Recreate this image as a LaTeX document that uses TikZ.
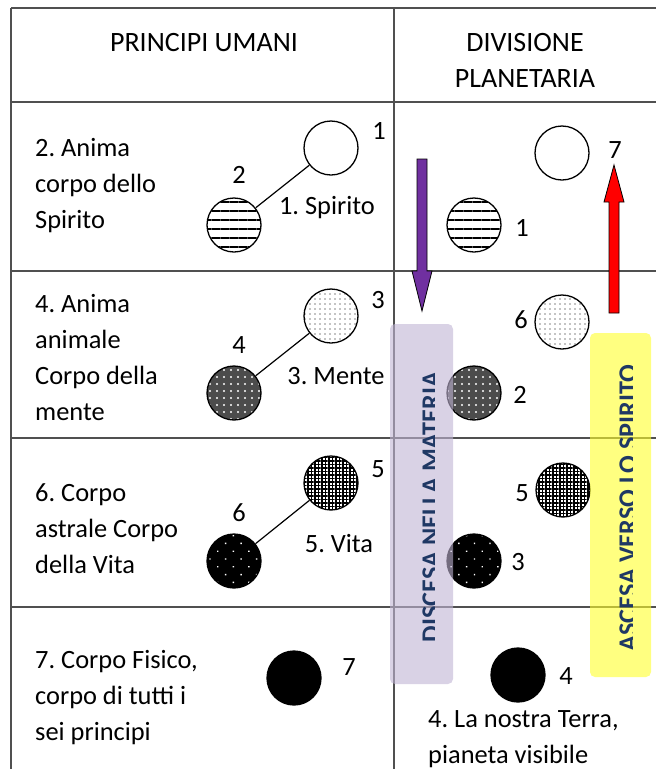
\documentclass[tikz,border=0pt]{standalone}
\usepackage{fontspec}
\setmainfont{Carlito}
\usetikzlibrary{patterns.meta}
\definecolor{discesa}{RGB}{112,48,160}
\definecolor{boxlilla}{RGB}{192,180,212}
\definecolor{boxgiallo}{RGB}{255,255,43}
\definecolor{blutesto}{RGB}{31,56,100}
\definecolor{griglia}{RGB}{80,80,80}
\frenchspacing
\begin{document}
\begin{tikzpicture}[x=1pt,y=-1pt,
  riga/.style={griglia,line width=1.4pt},
  corpo/.style={circle,draw,line width=1.3pt,minimum size=54pt,inner sep=0pt},
  bianco/.style={corpo,fill=white},
  righe/.style={corpo,pattern={Lines[angle=0,distance=9pt,line width=1.6pt]}},
  puntini/.style={corpo,pattern={Dots[radius=0.7pt,distance=5pt]}},
  scuro/.style={corpo,preaction={fill=black!70},pattern={Dots[radius=1.1pt,distance=7pt]},pattern color=white},
  rete/.style={corpo,preaction={fill=white},pattern={Hatch[distance=3.5pt,line width=1.3pt]}},
  nero/.style={corpo,preaction={fill=black},pattern={Dots[radius=1pt,distance=11pt,angle=45]},pattern color=white},
  pieno/.style={corpo,fill=black},
  testo/.style={font=\fontsize{26.4}{36}\selectfont,inner sep=0pt,align=left},
  titolo/.style={font=\fontsize{28}{36}\selectfont,inner sep=0pt,align=center},
  num/.style={font=\fontsize{26.4}{36}\selectfont,inner sep=0pt},
  verticale/.style={rotate=90,anchor=south,inner sep=0pt,text=blutesto,font=\fontsize{26.2}{30}\selectfont\bfseries}]
\useasboundingbox (0,0) rectangle (656,769);
\draw[riga] (11,8) -- (656,8);
\draw[riga] (11,8) -- (11,769);
\draw[riga] (394,8) -- (394,769);
\foreach \y in {102,271,438,607} \draw[riga] (11,\y) -- (656,\y);
\node[titolo] (h1) at (204,43) {PRINCIPI UMANI};
\node[titolo] (h2) at (525,60) {DIVISIONE\\PLANETARIA};
\node[testo,anchor=west] (t1) at (35,186) {2. Anima\\corpo dello\\Spirito};
\node[testo,anchor=west] (t2) at (35,358) {4. Anima\\animale\\Corpo della\\mente};
\node[testo,anchor=west] (t3) at (35,529) {6. Corpo\\astrale Corpo\\della Vita};
\node[testo,anchor=west] (t4) at (35,698) {7. Corpo Fisico,\\corpo di tutti i\\sei principi};
\node[testo,anchor=west] (t5) at (428,739) {4. La nostra Terra,\\pianeta visibile};
% principi umani
\node[bianco] (s1) at (331,148) {};
\node[righe] (s2) at (234,225) {};
\node[puntini] (s3) at (331,316) {};
\node[scuro] (s4) at (234,393) {};
\node[rete] (s5) at (331,483) {};
\node[nero] (s6) at (234,561) {};
\node[pieno] (s7) at (294,678) {};
\draw[line width=1.2pt] (s1) -- (s2);
\draw[line width=1.2pt] (s3) -- (s4);
\draw[line width=1.2pt] (s5) -- (s6);
\node[num] (n1) at (379,131) {1};
\node[num] (n2) at (239,175) {2};
\node[num] (n3) at (378,300) {3};
\node[num] (n4) at (239,345) {4};
\node[num] (n5) at (378,469) {5};
\node[num] (n6) at (239,513) {6};
\node[num] (n7) at (349,667) {7};
\node[num] (l1) at (327,208) {1. Spirito};
\node[num] (l3) at (336,376) {3. Mente};
\node[num] (l5) at (339,544) {5. Vita};
% divisione planetaria
\node[bianco] (p7) at (562,153) {};
\node[righe] (p1) at (474,225) {};
\node[puntini] (p6) at (562,322) {};
\node[scuro] (p2) at (474,393) {};
\node[rete] (p5) at (563,490) {};
\node[nero] (p3) at (474,561) {};
\node[pieno] (p4) at (518,675) {};
\node[num] (m7) at (615,150) {7};
\node[num] (m1) at (522,228) {1};
\node[num] (m6) at (521,320) {6};
\node[num] (m2) at (520,395) {2};
\node[num] (m5) at (522,493) {5};
\node[num] (m3) at (518,562) {3};
\node[num] (m4) at (566,676) {4};
\filldraw[fill=discesa,line width=0.8pt] (417,159) -- (427,159) -- (427,271) -- (432,271) -- (422,311) -- (412,271) -- (417,271) -- cycle;
\filldraw[fill=red,line width=0.8pt] (609,313) -- (619,313) -- (619,202) -- (624,202) -- (614,165) -- (604,202) -- (609,202) -- cycle;
\fill[boxlilla,fill opacity=0.6,rounded corners=5pt] (390,324) rectangle (453,684);
\fill[boxgiallo,fill opacity=0.6,rounded corners=5pt] (590,333) rectangle (651,677);
\begin{scope}
\clip (390,324) rectangle (434,684);
\node[verticale] (discesa) at (440,507) {DISCESA NELLA MATERIA};
\end{scope}
\begin{scope}
\clip (590,333) rectangle (632,677);
\node[verticale] (ascesa) at (637,508) {ASCESA VERSO LO SPIRITO};
\end{scope}
\end{tikzpicture}
\end{document}
